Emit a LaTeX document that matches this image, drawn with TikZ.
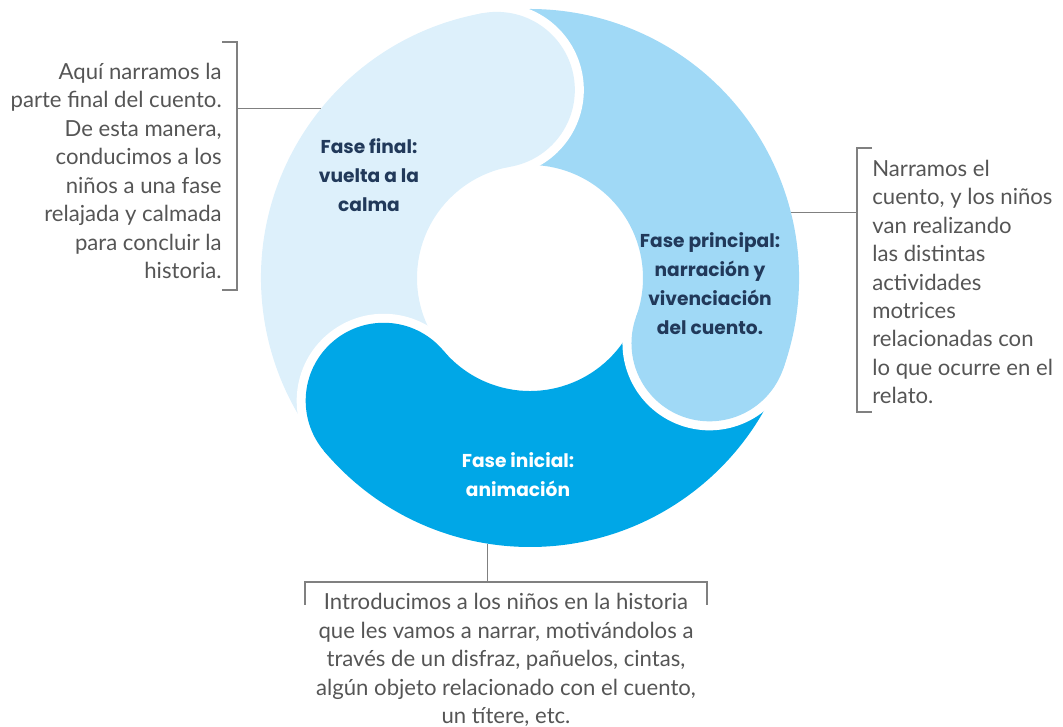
\documentclass[tikz,border=0pt]{standalone}
\usepackage{fontspec}
\setmainfont{Lato}
\newfontfamily\labelfont{Poppins}
\usetikzlibrary{positioning,calc}

\definecolor{finalblue}{HTML}{DDF0FB}
\definecolor{mainblue}{HTML}{A0D9F6}
\definecolor{startblue}{HTML}{00A7E7}
\definecolor{labelnavy}{HTML}{21395A}
\definecolor{notegray}{HTML}{555555}
\definecolor{leadgray}{HTML}{808080}

\tikzset{
  phase/.style={align=center, text=labelnavy, inner sep=0pt,
    font=\labelfont\bfseries\fontsize{10.6}{16.5}\selectfont},
  note/.style={text=notegray, inner sep=0pt,
    font=\fontsize{12.6}{16.2}\selectfont},
  leader/.style={draw=leadgray, line width=0.6pt},
}

\begin{document}
\begin{tikzpicture}[x=0.02cm, y=0.02cm]
\useasboundingbox (0,0) rectangle (1063,727);
% Set the ring dimensions
\def\rout{269}\def\rin{113}\def\rmid{191}\def\rcap{78}\def\rgap{87}
\coordinate (C) at (530,449);
\node[circle, minimum size=10.76cm, inner sep=0pt] (ring) at (C) {};

% Draw the three ring segments
\foreach \a/\col in {100/finalblue, -20/mainblue, -140/startblue}
  \fill[\col] ($(C)+(\a:\rout)$) arc[start angle=\a, end angle=\a+120, radius=\rout]
    -- ($(C)+({\a+120}:\rin)$) arc[start angle=\a+120, end angle=\a, radius=\rin] -- cycle;

% Round heads with a white gap
\foreach \a in {100,-20,-140}
  \fill[white] ($(C)+(\a:\rmid+\rgap)$) arc[start angle=\a, end angle=\a-180, radius=\rgap] -- cycle;
\foreach \a/\col in {100/finalblue, -20/mainblue, -140/startblue}
  \fill[\col] ($(C)+(\a:\rmid)$) circle[radius=\rcap];

% Phase labels
\node[phase] (final) at (369,552) {Fase final:\\vuelta a la\\calma};
\node[phase] (main) at (710,443) {Fase principal:\\narración y\\vivenciación\\del cuento.};
\node[phase, text=white] (start) at (518,252) {Fase inicial:\\animación};

% Notes
\node[note, anchor=east, align=right] (lnote) at (222,556)
  {Aquí narramos la\\parte final del cuento.\\De esta manera,\\conducimos a los\\niños a una fase\\relajada y calmada\\para concluir la\\historia.};
\node[note, anchor=west, align=left] (rnote) at (872,445)
  {Narramos el\\cuento, y los niños\\van realizando\\las distintas\\actividades\\motrices\\relacionadas con\\lo que ocurre en el\\relato.};
\node[note, align=center] (bnote) at (506,67)
  {Introducimos a los niños en la historia\\que les vamos a narrar, motivándolos a\\través de un disfraz, pañuelos, cintas,\\algún objeto relacionado con el cuento,\\un títere, etc.};

% Brackets and leaders
\coordinate (lbrT) at (237,685);
\coordinate (lbrB) at (237,437);
\coordinate (rbrT) at (857,579);
\coordinate (rbrB) at (857,315);
\coordinate (bbrL) at (305,145);
\coordinate (bbrR) at (707,145);
\draw[leader] ([xshift=-0.3cm]lbrT) -- (lbrT) -- (lbrB) -- ++(-15,0);
\draw[leader] ([xshift=0.3cm]rbrT) -- (rbrT) -- (rbrB) -- ++(15,0);
\draw[leader] ([yshift=-0.46cm]bbrL) -- (bbrL) -- (bbrR) -- ++(0,-23);
\draw[leader] (ring.141.9) -- (ring.141.9 -| lbrT);
\draw[leader] (ring.14) -- (ring.14 -| rbrT);
\draw[leader] (ring.261.9) -- (ring.261.9 |- bbrL);
\end{tikzpicture}
\end{document}
